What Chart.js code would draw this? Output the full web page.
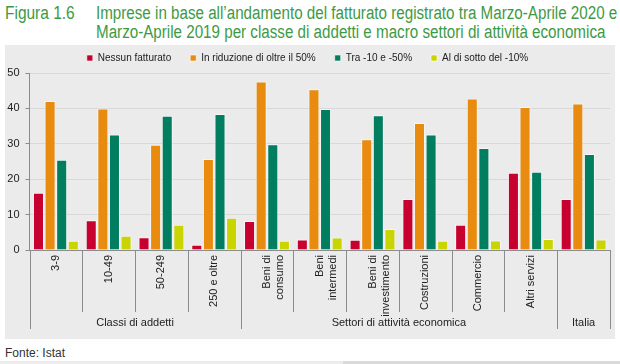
<!DOCTYPE html>
<html>
<head>
<meta charset="utf-8">
<script src="https://cdn.jsdelivr.net/npm/chart.js@4.4.0/dist/chart.umd.min.js"></script>
<style>
  body { margin: 0; width: 620px; height: 364px; background: #fff; overflow: hidden; font-family: "Liberation Sans", Arial, sans-serif; position: relative; }
  .ttl { position: absolute; color: #3d9a44; font-size: 18px; line-height: 19px; white-space: nowrap; transform: scaleX(0.843); transform-origin: 0 0; }
  #fig { left: 5px; top: 4px; transform: scaleX(0.86); }
  #title { left: 96px; top: 4px; }
  #panel { position: absolute; left: 5px; top: 45px; width: 610px; height: 294px; background: #ebebeb; }
  #source { position: absolute; left: 5px; top: 346px; font-size: 12px; color: #333; }
  #strip1 { position: absolute; left: 0; top: 361px; width: 343px; height: 3px; background: #ececec; }
  #strip2 { position: absolute; left: 343px; top: 361px; width: 277px; height: 3px; background: #d9d9d9; }
</style>
</head>
<body>
<div id="fig" class="ttl">Figura 1.6</div>
<div id="title" class="ttl">Imprese in base all’andamento del fatturato registrato tra Marzo-Aprile 2020 e<br>Marzo-Aprile 2019 per classe di addetti e macro settori di attività economica</div>
<div id="panel"><canvas id="chart" width="610" height="294"></canvas></div>
<div id="source">Fonte: Istat</div>
<div id="strip1"></div><div id="strip2"></div>
<script>
const categories = [
  "3-9", "10-49", "50-249", "250 e oltre",
  ["Beni di", "consumo"], ["Beni", "intermedi"], ["Beni di", "investimento"],
  "Costruzioni", "Commercio", "Altri servizi", ""
];
const groups = [
  { label: "Classi di addetti", from: 0, to: 3 },
  { label: "Settori di attività economica", from: 4, to: 9 },
  { label: "Italia", from: 10, to: 10 }
];
const seriesNames = ["Nessun fatturato", "In riduzione di oltre il 50%", "Tra -10 e -50%", "Al di sotto del -10%"];
const nessun = [16.2, 8.4, 3.6, 1.5, 8.2, 3.0, 2.9, 14.4, 7.1, 21.8, 14.4];
const oltre50 = [42.1, 40.0, 29.7, 25.7, 47.6, 45.4, 31.3, 35.9, 42.8, 40.4, 41.4];
const tra10e50 = [25.5, 32.6, 37.9, 38.4, 29.9, 39.8, 38.1, 32.6, 28.8, 22.1, 27.1];
const sotto10 = [2.6, 4.0, 7.1, 9.1, 2.6, 3.5, 5.9, 2.6, 2.7, 3.1, 3.0];
const yTicks = [0, 10, 20, 30, 40, 50];
const colors = ["#c8002f", "#e88b0f", "#007e5f", "#c9d400"];

const groupPlugin = {
  id: "groupPlugin",
  afterDraw(chart) {
    const ctx = chart.ctx;
    const x = chart.scales.x;
    const top = chart.chartArea.bottom;
    const half = (x.getPixelForValue(1) - x.getPixelForValue(0)) / 2;
    ctx.save();
    ctx.strokeStyle = "#8c8c8c";
    ctx.lineWidth = 1;
    for (let i = 0; i <= categories.length; i++) {
      const px = Math.round(x.getPixelForValue(i) - half) + 0.5;
      const isEdge = groups.some(g => g.from === i || g.to + 1 === i);
      ctx.beginPath();
      ctx.moveTo(px, top);
      ctx.lineTo(px, top + (isEdge ? 79 : 62));
      ctx.stroke();
    }
    ctx.fillStyle = "#222";
    ctx.font = "11px 'Liberation Sans', Arial, sans-serif";
    ctx.textAlign = "center";
    ctx.textBaseline = "middle";
    groups.forEach(g => {
      const cx = (x.getPixelForValue(g.from) + x.getPixelForValue(g.to)) / 2;
      ctx.fillText(g.label, cx, top + 73);
    });
    ctx.restore();
  }
};

new Chart(document.getElementById("chart"), {
  type: "bar",
  data: {
    labels: categories,
    datasets: [nessun, oltre50, tra10e50, sotto10].map((d, i) => ({
      label: seriesNames[i],
      data: d,
      backgroundColor: colors[i],
      borderColor: "rgba(255,255,255,0.6)",
      borderWidth: 1,
      categoryPercentage: 0.88,
      barPercentage: 0.95
    }))
  },
  options: {
    responsive: false,
    animation: false,
    layout: { padding: { top: -11, right: 5, bottom: 0, left: 0 } },
    plugins: {
      legend: {
        labels: {
          boxWidth: 6, boxHeight: 6, padding: 19, color: "#222",
          font: { size: 10, family: "'Liberation Sans', Arial, sans-serif" }
        }
      },
      tooltip: { enabled: false }
    },
    scales: {
      x: {
        grid: { drawOnChartArea: false, drawTicks: false },
        border: { color: "#8c8c8c" },
        ticks: {
          autoSkip: false, minRotation: 90, maxRotation: 90, padding: 5, color: "#222",
          font: { size: 11, family: "'Liberation Sans', Arial, sans-serif" }
        },
        afterFit(scale) { scale.height = 89; }
      },
      y: {
        min: 0, max: 50,
        afterBuildTicks(scale) { scale.ticks = yTicks.map(v => ({ value: v })); },
        grid: { color: "#d8d8d8", tickLength: 4, tickColor: "#8c8c8c" },
        border: { color: "#8c8c8c" },
        ticks: {
          padding: 6, color: "#222",
          font: { size: 11, family: "'Liberation Sans', Arial, sans-serif" }
        },
        afterFit(scale) { scale.width = 24.5; }
      }
    }
  },
  plugins: [groupPlugin]
});
</script>
</body>
</html>
